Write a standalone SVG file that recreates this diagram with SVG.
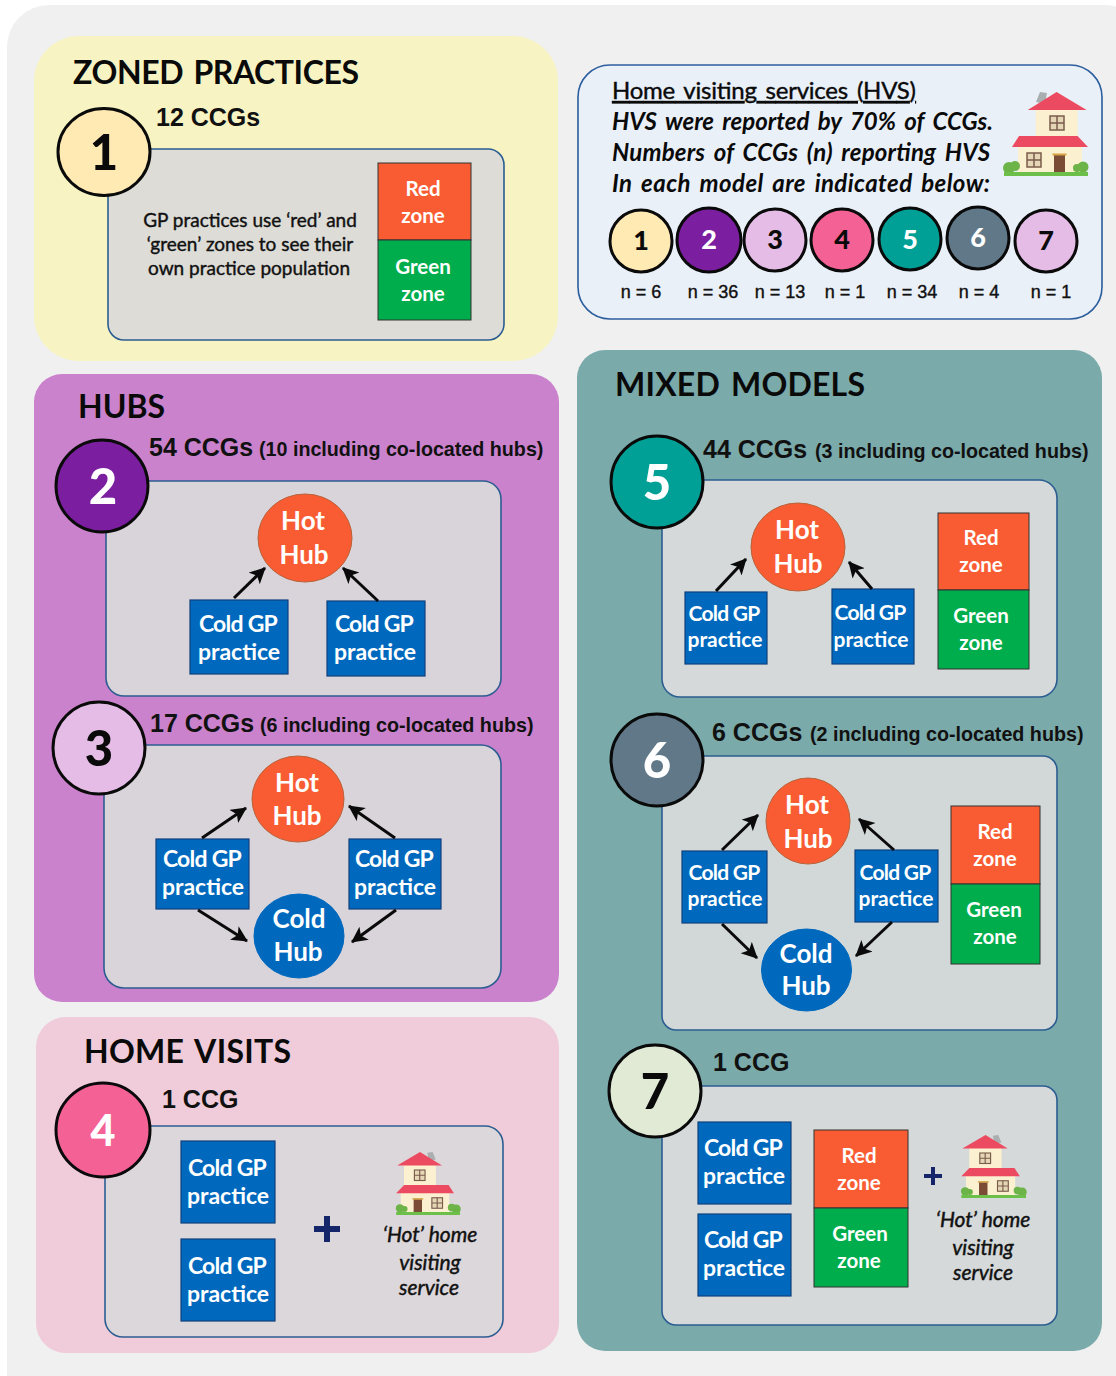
<svg xmlns="http://www.w3.org/2000/svg" xmlns:xlink="http://www.w3.org/1999/xlink" width="1116" height="1376" viewBox="0 0 1116 1376">
<style>
text{font-family:"Lato","Carlito","Liberation Sans",sans-serif}
.panel-title{font-size:32px;font-weight:700;fill:#0a0a0a;word-spacing:3px}
.card{stroke:#2c5d91;stroke-width:1.6}
.badge{stroke:#0a0a0a;stroke-width:3}
.num{font-size:49px;font-weight:900;text-anchor:middle}
.num-s{font-size:27px;font-weight:900;text-anchor:middle}
.dark{fill:#0a0a0a}.white{fill:#fff}
.ccg{font-family:"Liberation Sans",Arial,sans-serif;font-size:25px;font-weight:700;fill:#111}
.ccg-s{font-family:"Liberation Sans",Arial,sans-serif;font-size:19.7px;font-weight:700;fill:#111}
.n{font-family:"Liberation Sans",Arial,sans-serif;font-size:18px;fill:#111;text-anchor:middle;stroke:#111;stroke-width:.4px}
.gp{fill:#0069be;stroke:#10407c;stroke-width:1.2}
.gp-t{font-size:23px;font-weight:700;fill:#fff;text-anchor:middle}
.cg{letter-spacing:-.75px}
.sm{font-size:21px}
.red{fill:#f95c33;stroke:#333;stroke-width:1}
.grn{fill:#00ad4d;stroke:#333;stroke-width:1}
.zone-t{font-size:20.5px;font-weight:700;fill:#fff;text-anchor:middle}
.hot{fill:#f95c33;stroke:#b8623a;stroke-width:1}
.cold{fill:#0069be;stroke:#0069be;stroke-width:1}
.hub-t{font-size:26px;font-weight:700;fill:#fff;text-anchor:middle}
.arrow{fill:none;stroke:#0a0a0a;stroke-width:3;marker-end:url(#ah)}
.plus{fill:#15256a}
.hv{font-size:21px;font-style:italic;fill:#111;text-anchor:middle;stroke:#111;stroke-width:.45px}
.body{font-size:19px;fill:#111;text-anchor:middle;stroke:#111;stroke-width:.4px}
.hvs{font-size:24px;fill:#0a0a0a;word-spacing:3px;stroke:#0a0a0a;stroke-width:.4px}
.hvi{font-style:italic;font-weight:700;font-size:24px;fill:#0a0a0a;word-spacing:3px}
</style>
<defs>
<marker id="ah" markerUnits="userSpaceOnUse" markerWidth="18" markerHeight="18" refX="15" refY="8" orient="auto"><path d="M0 0L16 8L0 16L4 8Z" fill="#0a0a0a"/></marker>
<g id="house">
<path d="M32 10L36 0L43 1L41 12Z" fill="#a9aeb0"/>
<rect x="31.700" y="17" width="42" height="29" fill="#fbf0cf"/>
<rect x="14" y="54" width="64" height="28" fill="#fbf0cf"/>
<path d="M52.600 0L82.600 18H23.700Z" fill="#ec4a60"/>
<path d="M15 44H73.500L84 55H8Z" fill="#ec4a60"/>
<rect x="46" y="24" width="14" height="14" fill="#e5d7b5" stroke="#7a5c4c" stroke-width="1.500"/><path d="M53 24V38M46 31H60" stroke="#7a5c4c" stroke-width="1.500"/>
<rect x="23" y="61" width="14" height="14" fill="#e5d7b5" stroke="#7a5c4c" stroke-width="1.500"/><path d="M30 61V75M23 68H37" stroke="#7a5c4c" stroke-width="1.500"/>
<rect x="50" y="63" width="11" height="19" fill="#7a4c36"/><rect x="48.500" y="61.500" width="14" height="2" fill="#d7a445"/>
<circle cx="5" cy="76" r="6" fill="#6cb348"/><circle cx="11" cy="74" r="5" fill="#6cb348"/><circle cx="73" cy="76" r="4" fill="#6cb348"/><circle cx="79" cy="75" r="5.500" fill="#6cb348"/>
<rect x="0" y="80" width="84" height="4" fill="#6cc04a"/>
</g>
</defs>

<rect id="backdrop" x="7" y="5" width="1140" height="1410" rx="42" fill="#f0f0f0"/>

<g id="panels">
<rect x="34" y="36" width="524" height="325" rx="45" fill="#f7f3c3"/>
<rect x="34" y="374" width="525" height="628" rx="28" fill="#ca82cc"/>
<rect x="36" y="1017" width="523" height="336" rx="30" fill="#f0cbd9"/>
<rect x="577" y="350" width="525" height="1001" rx="28" fill="#7aaaaa"/>
<text class="panel-title" x="73" y="84" textLength="286">ZONED PRACTICES</text>
<text class="panel-title" x="78" y="418" textLength="87">HUBS</text>
<text class="panel-title" x="84" y="1063" textLength="207">HOME VISITS</text>
<text class="panel-title" x="615" y="396" textLength="250">MIXED MODELS</text>
</g>

<g id="hvs-legend">
<rect x="578" y="65" width="524" height="254" rx="32" fill="#e9f0f8" stroke="#2c5d9e" stroke-width="1.600"/>
<text class="hvs" x="612" y="99" textLength="304" text-decoration="underline">Home visiting services (HVS)</text>
<text class="hvi" x="612" y="130" textLength="381">HVS were reported by 70% of CCGs.</text>
<text class="hvi" x="612" y="161" textLength="378">Numbers of CCGs (n) reporting HVS</text>
<text class="hvi" x="612" y="192" textLength="378">In each model are indicated below:</text>
<use xlink:href="#house" href="#house" x="1004" y="92"/>
<circle class="badge" cx="641" cy="241" r="31" fill="#ffeab3"/><text class="num-s dark" x="641" y="250">1</text>
<circle class="badge" cx="709" cy="240" r="32" fill="#7b1fa0"/><text class="num-s white" x="709" y="249">2</text>
<circle class="badge" cx="775" cy="240" r="31" fill="#e4bce6"/><text class="num-s dark" x="775" y="249">3</text>
<circle class="badge" cx="842" cy="240" r="31" fill="#f46295"/><text class="num-s dark" x="842" y="249">4</text>
<circle class="badge" cx="910" cy="239" r="31" fill="#00a096"/><text class="num-s white" x="910" y="249">5</text>
<circle class="badge" cx="978" cy="238" r="31" fill="#607888"/><text class="num-s white" x="978" y="247">6</text>
<circle class="badge" cx="1046" cy="241" r="31" fill="#e4bce6"/><text class="num-s dark" x="1046" y="250">7</text>
<text class="n" x="641" y="298">n = 6</text><text class="n" x="713" y="298">n = 36</text><text class="n" x="780" y="298">n = 13</text><text class="n" x="845" y="298">n = 1</text><text class="n" x="912" y="298">n = 34</text><text class="n" x="979" y="298">n = 4</text><text class="n" x="1051" y="298">n = 1</text>
</g>

<g id="model-1">
<rect class="card" x="108" y="149" width="396" height="191" rx="16" fill="#dddcd7"/>
<ellipse class="badge" cx="104" cy="152" rx="46" ry="43.500" fill="#ffeab3"/><text class="num dark" x="104" y="170">1</text>
<text class="ccg" x="156" y="126">12 CCGs</text>
<text class="body" x="250" y="227">GP practices use ‘red’ and</text><text class="body" x="250" y="251">‘green’ zones to see their</text><text class="body" x="249" y="275">own practice population</text>
<rect class="red" x="378" y="163" width="93" height="77"/><rect class="grn" x="378" y="240" width="93" height="80"/>
<text class="zone-t" x="423" y="196">Red</text><text class="zone-t" x="423" y="223">zone</text><text class="zone-t" x="423" y="274">Green</text><text class="zone-t" x="423" y="301">zone</text>
</g>

<g id="model-2">
<rect class="card" x="106" y="481" width="395" height="215" rx="18" fill="#d9d3da"/>
<circle class="badge" cx="102" cy="486" r="46" fill="#7b1fa0"/><text class="num white" x="103" y="504">2</text>
<text class="ccg" x="149" y="456">54 CCGs</text><text class="ccg-s" x="259" y="456">(10 including co-located hubs)</text>
<ellipse class="hot" cx="305" cy="538" rx="47" ry="44"/><text class="hub-t" x="303" y="530">Hot</text><text class="hub-t" x="304" y="564">Hub</text>
<rect class="gp" x="190" y="600" width="98" height="74"/><text class="gp-t cg" x="238" y="632">Cold GP</text><text class="gp-t" x="239" y="660">practice</text>
<rect class="gp" x="327" y="601" width="98" height="75"/><text class="gp-t cg" x="374" y="632">Cold GP</text><text class="gp-t" x="375" y="660">practice</text>
</g>

<g id="model-3">
<rect class="card" x="104" y="745" width="397" height="243" rx="20" fill="#d9d3da"/>
<circle class="badge" cx="99" cy="748" r="46" fill="#e4bce6"/><text class="num dark" x="99" y="766">3</text>
<text class="ccg" x="150" y="732">17 CCGs</text><text class="ccg-s" x="260" y="732">(6 including co-located hubs)</text>
<ellipse class="hot" cx="298" cy="799" rx="46" ry="43"/><text class="hub-t" x="297" y="792">Hot</text><text class="hub-t" x="297" y="825">Hub</text>
<ellipse class="cold" cx="299" cy="936" rx="45" ry="42"/><text class="hub-t" x="299" y="928">Cold</text><text class="hub-t" x="298" y="961">Hub</text>
<rect class="gp" x="156" y="839" width="93" height="70"/><text class="gp-t cg" x="202" y="867">Cold GP</text><text class="gp-t" x="203" y="895">practice</text>
<rect class="gp" x="349" y="839" width="92" height="70"/><text class="gp-t cg" x="394" y="867">Cold GP</text><text class="gp-t" x="395" y="895">practice</text>
</g>

<g id="model-4">
<rect class="card" x="105" y="1126" width="398" height="211" rx="18" fill="#dcd7da"/>
<circle class="badge" cx="103" cy="1130" r="47" fill="#f46295"/><text class="num white" style="font-size:43px" x="103" y="1146">4</text>
<text class="ccg" x="162" y="1108">1 CCG</text>
<rect class="gp" x="181" y="1141" width="94" height="82"/><text class="gp-t cg" x="227" y="1176">Cold GP</text><text class="gp-t" x="228" y="1204">practice</text>
<rect class="gp" x="181" y="1239" width="94" height="82"/><text class="gp-t cg" x="227" y="1274">Cold GP</text><text class="gp-t" x="228" y="1302">practice</text>
<path class="plus" d="M324 1216h6v10h10v6h-10v10h-6v-10h-10v-6h10z"/>
<use xlink:href="#house" href="#house" transform="translate(460 1152) scale(-.76 .75)"/>
<text class="hv" x="430" y="1242">‘Hot’ home</text><text class="hv" x="430" y="1270">visiting</text><text class="hv" x="429" y="1295">service</text>
</g>

<g id="model-5">
<rect class="card" x="662" y="480" width="395" height="217" rx="18" fill="#d5d9d9"/>
<circle class="badge" cx="657" cy="482" r="46" fill="#00a096"/><text class="num white" x="657" y="500">5</text>
<text class="ccg" x="703" y="458">44 CCGs</text><text class="ccg-s" x="815" y="458">(3 including co-located hubs)</text>
<ellipse class="hot" cx="798" cy="547" rx="47" ry="44"/><text class="hub-t" x="797" y="539">Hot</text><text class="hub-t" x="798" y="573">Hub</text>
<rect class="gp" x="685" y="592" width="82" height="72"/><text class="gp-t sm cg" style="font-size:21px" x="724" y="621">Cold GP</text><text class="gp-t sm" style="font-size:21px" x="725" y="647">practice</text>
<rect class="gp" x="832" y="589" width="82" height="75"/><text class="gp-t sm cg" style="font-size:21px" x="870" y="620">Cold GP</text><text class="gp-t sm" style="font-size:21px" x="871" y="647">practice</text>
<rect class="red" x="938" y="513" width="91" height="77"/><rect class="grn" x="938" y="590" width="91" height="79"/>
<text class="zone-t" x="981" y="545">Red</text><text class="zone-t" x="981" y="572">zone</text><text class="zone-t" x="981" y="623">Green</text><text class="zone-t" x="981" y="650">zone</text>
</g>

<g id="model-6">
<rect class="card" x="662" y="756" width="395" height="274" rx="14" fill="#d2d7d7"/>
<circle class="badge" cx="657" cy="760" r="46" fill="#607888"/><text class="num white" x="657" y="778">6</text>
<text class="ccg" x="712" y="741">6 CCGs</text><text class="ccg-s" x="810" y="741">(2 including co-located hubs)</text>
<ellipse class="hot" cx="808" cy="821" rx="42" ry="43"/><text class="hub-t" x="807" y="814">Hot</text><text class="hub-t" x="808" y="848">Hub</text>
<ellipse class="cold" cx="806.500" cy="970" rx="45" ry="41"/><text class="hub-t" x="806" y="963">Cold</text><text class="hub-t" x="806" y="995">Hub</text>
<rect class="gp" x="682" y="851" width="85" height="72"/><text class="gp-t sm cg" style="font-size:21px" x="724" y="880">Cold GP</text><text class="gp-t sm" style="font-size:21px" x="725" y="906">practice</text>
<rect class="gp" x="855" y="850" width="83" height="72"/><text class="gp-t sm cg" style="font-size:21px" x="895" y="880">Cold GP</text><text class="gp-t sm" style="font-size:21px" x="896" y="906">practice</text>
<rect class="red" x="951" y="806" width="89" height="78"/><rect class="grn" x="951" y="884" width="89" height="80"/>
<text class="zone-t" x="995" y="839">Red</text><text class="zone-t" x="995" y="866">zone</text><text class="zone-t" x="994" y="917">Green</text><text class="zone-t" x="995" y="944">zone</text>
</g>

<g id="model-7">
<rect class="card" x="662" y="1086" width="395" height="239" rx="14" fill="#d5d9d9"/>
<circle class="badge" cx="655" cy="1091" r="46" fill="#e0ead5"/><text class="num dark" x="655" y="1109">7</text>
<text class="ccg" x="713" y="1071">1 CCG</text>
<rect class="gp" x="698" y="1122" width="93" height="82"/><text class="gp-t cg" x="743" y="1156">Cold GP</text><text class="gp-t" x="744" y="1184">practice</text>
<rect class="gp" x="698" y="1214" width="93" height="82"/><text class="gp-t cg" x="743" y="1248">Cold GP</text><text class="gp-t" x="744" y="1276">practice</text>
<rect class="red" x="814" y="1130" width="94" height="78"/><rect class="grn" x="814" y="1208" width="94" height="79"/>
<text class="zone-t" x="859" y="1163">Red</text><text class="zone-t" x="859" y="1190">zone</text><text class="zone-t" x="860" y="1241">Green</text><text class="zone-t" x="859" y="1268">zone</text>
<path class="plus" d="M931 1167h4v7h7v4h-7v7h-4v-7h-7v-4h7z"/>
<use xlink:href="#house" href="#house" transform="translate(1026 1135) scale(-.77 .75)"/>
<text class="hv" x="983" y="1227">‘Hot’ home</text><text class="hv" x="983" y="1255">visiting</text><text class="hv" x="983" y="1280">service</text>
</g>

<g id="connectors">
<path class="arrow" d="M234 598L265 568"/>
<path class="arrow" d="M378 601L343 568"/>
<path class="arrow" d="M202 838L246 808"/>
<path class="arrow" d="M395 838L349 806"/>
<path class="arrow" d="M198 910L247 941"/>
<path class="arrow" d="M396 910L352 942"/>
<path class="arrow" d="M716 591L746 559"/>
<path class="arrow" d="M872 589L849 562"/>
<path class="arrow" d="M722 850L758 815"/>
<path class="arrow" d="M894 850L859 819"/>
<path class="arrow" d="M722 924L757 958"/>
<path class="arrow" d="M892 922L856 956"/>
</g>
</svg>
